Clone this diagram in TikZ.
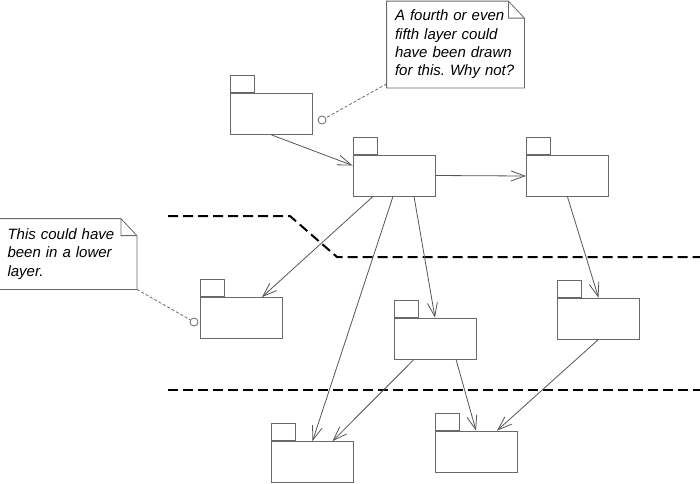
\documentclass[tikz,border=0pt]{standalone}
\usepackage{fontspec}
\setmainfont{Liberation Sans}
\usetikzlibrary{arrows.meta}
\definecolor{boxgray}{RGB}{105,105,105}
\definecolor{arrowgray}{RGB}{85,85,85}
\frenchspacing
\begin{document}
\begin{tikzpicture}[x=1pt, y=-1pt, line width=0.8pt,
    pkg/.style={draw=boxgray, minimum width=82pt, minimum height=41pt, inner sep=0pt},
    pkgtab/.style={draw=boxgray, minimum width=24pt, minimum height=17pt, inner sep=0pt, anchor=south west},
    dep/.style={draw=arrowgray, -{Straight Barb[length=14pt, width=10pt]}},
    notetext/.style={align=left, text width=121pt, inner xsep=8pt, minimum height=86pt,
        font=\fontsize{15pt}{18.3pt}\selectfont\itshape},
    notebox/.style={draw=boxgray},
    anchorline/.style={draw=boxgray, dash pattern=on 3pt off 2pt},
    anchorpin/.style={circle, draw=boxgray, fill=white, minimum size=8pt, inner sep=0pt},
    layer/.style={black, line width=2pt, dash pattern=on 10pt off 5pt}]
    \useasboundingbox (0,0) rectangle (700,483);
    % Layer boundaries
    \draw[layer] (168,216) -- (290,216) -- (337,257) -- (700,257);
    \draw[layer] (168,390) -- (700,390);
    % Packages
    \foreach \n/\x/\y in {p1/271.5/114, p2/394/175.5, p3/567.5/176, p4/241/318,
                          p5/435/338.5, p6/598.5/318.5, p7/312.5/462, p8/476/451.5}
    {
        \node[pkg] (\n) at (\x,\y) {};
        \node[pkgtab] (\n tab) at (\n.north west) {};
    }
    % Dependencies
    \draw[dep] (p1.south) -- ([yshift=10pt]p2.west);
    \draw[dep] (p2.east) -- (p3.west);
    \draw[dep] ([xshift=-21pt]p2.south) -- ([xshift=21pt]p4.north);
    \draw[dep] ([xshift=-1pt]p2.south) -- (p7.north);
    \draw[dep] ([xshift=20pt]p2.south) -- (p5.north);
    \draw[dep] (p3.south) -- (p6.north);
    \draw[dep] ([xshift=-21pt]p5.south) -- ([xshift=20pt]p7.north);
    \draw[dep] ([xshift=21pt]p5.south) -- (p8.north);
    \draw[dep] (p6.south) -- ([xshift=21pt]p8.north);
    % Notes
    \node[notetext] (n1) at (455.5,44.5) {A fourth or even\\fifth layer could\\have been drawn\\for this. Why not?};
    \node[notetext, minimum height=70pt] (n2) at (68,254) {This could have\\been in a lower\\layer.};
    \foreach \n in {n1,n2}
        \draw[notebox] (\n.north west) -- ([xshift=-16pt]\n.north east) -- ([yshift=-17pt]\n.north east)
            -- (\n.south east) -- (\n.south west) -- cycle
            ([xshift=-16pt]\n.north east) |- ([yshift=-17pt]\n.north east);
    % Note anchors
    \node[anchorpin] (c1) at (322,120) {};
    \node[anchorpin] (c2) at (194,322) {};
    \draw[anchorline] ([yshift=4pt]n1.south west) -- (c1);
    \draw[anchorline] (n2.south east) -- (c2);
\end{tikzpicture}
\end{document}
